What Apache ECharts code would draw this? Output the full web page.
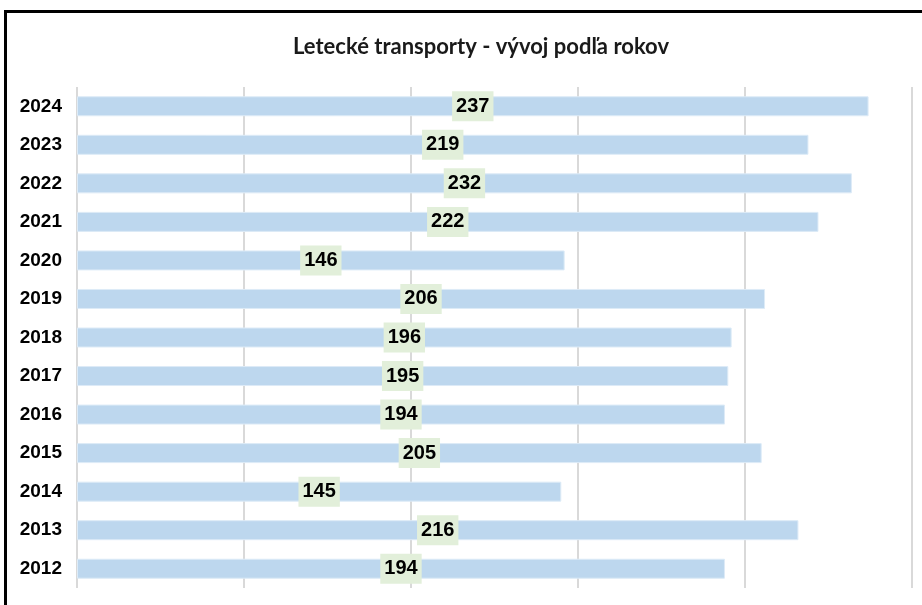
<!DOCTYPE html>
<html>
<head>
<meta charset="utf-8">
<script src="https://cdn.jsdelivr.net/npm/echarts@6/dist/echarts.min.js"></script>
<style>
  body { margin: 0; background: #fff; }
  #frame { position: absolute; left: 4px; top: 10px; right: 0; bottom: 0;
           border-left: 3px solid #000; border-top: 3px solid #000; }
  #chart { position: absolute; left: 0; top: 0; width: 922px; height: 605px; }
</style>
</head>
<body>
<div id="frame"></div>
<div id="chart"></div>
<script>
// Dáta
var roky = ['2012', '2013', '2014', '2015', '2016', '2017', '2018', '2019', '2020', '2021', '2022', '2023', '2024'];
var hodnoty = [194, 216, 145, 205, 194, 195, 196, 206, 146, 222, 232, 219, 237];
var nazov = 'Letecké transporty - vývoj podľa rokov';

var option = {
    animation: false,
    title: {
        text: nazov,
        left: 476,
        textAlign: 'center',
        top: 31,
        textStyle: { fontFamily: 'Lato', fontSize: 22, fontWeight: 'bold', color: '#1a1a1a' }
    },
    grid: { left: 77, right: 10, top: 87, bottom: 17 },
    xAxis: {
        type: 'value',
        min: 0,
        max: 250,
        interval: 50,
        axisLabel: { show: false },
        axisLine: { show: false },
        axisTick: { show: false },
        splitLine: { lineStyle: { color: '#d9d9d9', width: 2 } }
    },
    yAxis: {
        type: 'category',
        data: roky,
        axisLine: { show: false },
        axisTick: { show: false },
        axisLabel: {
            margin: 15,
            color: '#000',
            fontFamily: 'Liberation Sans Narrow, Arial',
            fontWeight: 'bold',
            fontSize: 19
        }
    },
    series: [
        {
            type: 'bar',
            data: hodnoty,
            barWidth: 20,
            itemStyle: { color: '#BDD7EE', borderColor: '#DDEBF7', borderWidth: 1 },
            label: {
                show: true,
                position: 'inside',
                color: '#000',
                fontFamily: 'Liberation Sans Narrow, Arial',
                fontWeight: 'bold',
                fontSize: 20,
                lineHeight: 20,
                backgroundColor: '#E2EFDA',
                padding: [5, 4]
            }
        }
    ]
};

var myChart = echarts.init(document.getElementById('chart'));
myChart.setOption(option);
</script>
</body>
</html>
